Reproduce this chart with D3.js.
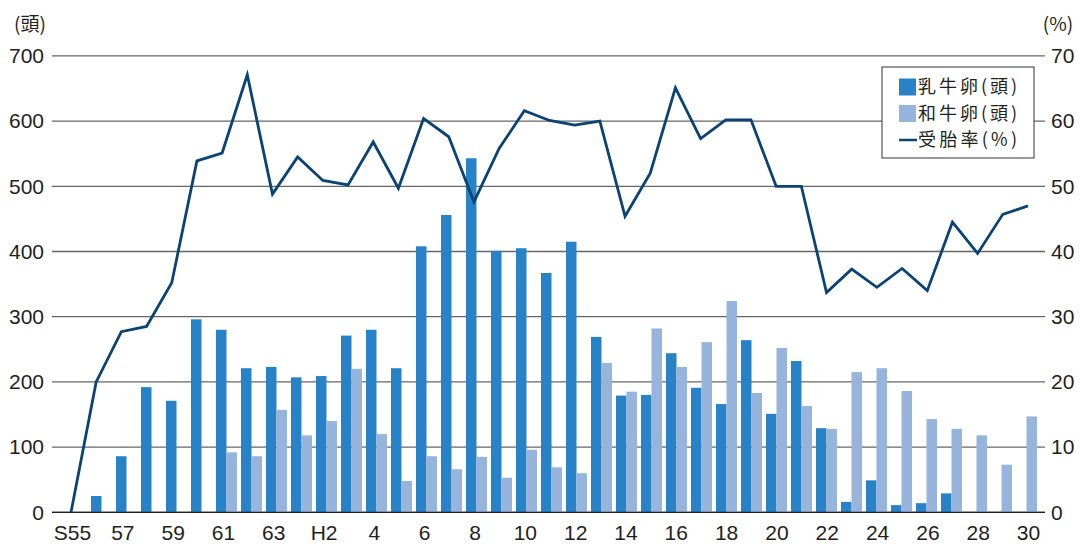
<!DOCTYPE html>
<html>
<head>
<meta charset="utf-8">
<script src="https://cdn.jsdelivr.net/npm/d3@7"></script>
<style>
body { margin: 0; background: #fff; }
text { font-family: "Liberation Sans Narrow", "Liberation Sans", Arial, sans-serif; fill: #231f20; }
.jp { font-family: "Noto Sans CJK JP", "Noto Sans", sans-serif; }
</style>
</head>
<body>
<div id="chart"></div>
<script>
// 年度 (S55 .. H30)
var years = ["S55","S56","S57","S58","S59","S60","S61","S62","S63",
  "H1","H2","H3","H4","H5","H6","H7","H8","H9","H10",
  "H11","H12","H13","H14","H15","H16","H17","H18","H19","H20",
  "H21","H22","H23","H24","H25","H26","H27","H28","H29","H30"];
var tickLabels = ["S55","57","59","61","63","H2","4","6","8","10","12","14","16","18","20","22","24","26","28","30"];

// 乳牛卵 (頭)
var dairy = [0,25,86,192,171,296,280,221,223,
  207,209,271,280,221,408,456,543,401,405,
  367,415,269,179,180,244,191,166,264,151,
  232,129,16,49,11,14,29,0,0,0];
// 和牛卵 (頭)
var wagyu = [0,0,0,0,0,0,92,86,157,
  118,140,220,120,48,86,66,85,53,96,
  69,60,229,185,282,223,261,324,183,252,
  163,128,215,221,186,143,128,118,73,147];
// 受胎率 (%)
var rate = [0,20,27.7,28.5,35.2,53.9,55.1,67.1,48.8,
  54.5,50.9,50.2,56.8,49.7,60.4,57.6,47.6,55.8,61.6,
  60.1,59.4,60.0,45.4,52.0,65.1,57.3,60.2,60.2,50.0,
  50.0,33.7,37.3,34.5,37.4,34.0,44.5,39.7,45.7,47.0];

var leftTicks = [0,100,200,300,400,500,600,700];
var rightTicks = [0,10,20,30,40,50,60,70];

var width = 1080, height = 544;
var plotL = 52, plotR = 1045;

var svg = d3.select("#chart").append("svg")
  .attr("width", width).attr("height", height);

var yL = d3.scaleLinear().domain([0,700]).range([512.3, 55.9]);
var yR = d3.scaleLinear().domain([0,70]).range([512.3, 55.9]);

var xBar = d3.scaleBand().domain(years).range([64, 1039])
  .paddingInner(0.16).paddingOuter(0.08);
var xSub = d3.scaleBand().domain(["dairy","wagyu"]).range([0, xBar.bandwidth()]);
var xLine = d3.scalePoint().domain(years).range([71, 1028]);
var xLab = d3.scalePoint().domain(years).range([72, 1028]);

// gridlines
svg.append("g").selectAll("line").data(leftTicks).enter().append("line")
  .attr("x1", plotL).attr("x2", plotR)
  .attr("y1", function(d){ return yL(d); })
  .attr("y2", function(d){ return yL(d); })
  .attr("stroke", function(d){ return d === 0 ? "#231f20" : "#666"; })
  .attr("stroke-width", 1.3);

// bars
var rows = years.map(function(y, i){
  return {year: y, dairy: dairy[i], wagyu: wagyu[i]};
});
var colors = {dairy: "#2882c8", wagyu: "#96b4dc"};
var grp = svg.append("g").selectAll("g").data(rows).enter().append("g")
  .attr("transform", function(d){ return "translate(" + xBar(d.year) + ",0)"; });
grp.selectAll("rect")
  .data(function(d){ return ["dairy","wagyu"].filter(function(k){ return d[k] > 0; })
    .map(function(k){ return {key: k, value: d[k]}; }); })
  .enter().append("rect")
  .attr("x", function(d){ return xSub(d.key); })
  .attr("width", xSub.bandwidth())
  .attr("y", function(d){ return yL(d.value); })
  .attr("height", function(d){ return yL(0) - yL(d.value); })
  .attr("fill", function(d){ return colors[d.key]; });

// baseline redraw over bars
svg.append("line").attr("x1", plotL).attr("x2", plotR)
  .attr("y1", yL(0)).attr("y2", yL(0))
  .attr("stroke", "#231f20").attr("stroke-width", 1.3);

// line
var line = d3.line()
  .x(function(d, i){ return xLine(years[i]); })
  .y(function(d){ return yR(d); });
svg.append("path").datum(rate)
  .attr("d", line)
  .attr("fill", "none")
  .attr("stroke", "#0b4372")
  .attr("stroke-width", 2.8)
  .attr("stroke-linejoin", "miter");

// axes
var axL = svg.append("g").attr("transform", "translate(44,0)")
  .call(d3.axisLeft(yL).tickValues(leftTicks).tickSize(0).tickPadding(0));
var axR = svg.append("g").attr("transform", "translate(1051,0)")
  .call(d3.axisRight(yR).tickValues(rightTicks).tickSize(0).tickPadding(0));
var tickYears = years.filter(function(d, i){ return i % 2 === 0; });
var axB = svg.append("g").attr("transform", "translate(0,525)")
  .call(d3.axisBottom(xLab).tickValues(tickYears).tickSize(0).tickPadding(0)
    .tickFormat(function(d, i){ return tickLabels[i]; }));
[axL, axR, axB].forEach(function(a){
  a.select(".domain").remove();
  a.selectAll("text").attr("font-size", 21)
    .attr("font-family", "Liberation Sans Narrow, Liberation Sans, Arial, sans-serif")
    .attr("fill", "#231f20");
});

// unit labels
svg.append("text").attr("class", "jp").attr("x", 30).attr("y", 31)
  .attr("text-anchor", "middle").attr("font-size", 19).text("(頭)");
svg.append("text").attr("class", "jp").attr("x", 1058).attr("y", 31)
  .attr("text-anchor", "middle").attr("font-size", 19).text("(%)");

// legend
var legendItems = [
  {label: "乳牛卵(頭)", type: "rect", color: colors.dairy},
  {label: "和牛卵(頭)", type: "rect", color: colors.wagyu},
  {label: "受胎率(%)", type: "line", color: "#0b4372"}
];
var lg = svg.append("g").attr("transform", "translate(882,67)");
lg.append("rect").attr("width", 152).attr("height", 91)
  .attr("fill", "#fff").attr("stroke", "#333").attr("stroke-width", 1);
var li = lg.selectAll("g.item").data(legendItems).enter().append("g")
  .attr("class", "item")
  .attr("transform", function(d, i){ return "translate(17," + (20 + i * 26.5) + ")"; });
li.filter(function(d){ return d.type === "rect"; }).append("rect")
  .attr("x", 0).attr("y", -8.5).attr("width", 17).attr("height", 17)
  .attr("fill", function(d){ return d.color; });
li.filter(function(d){ return d.type === "line"; }).append("line")
  .attr("x1", 0).attr("x2", 18).attr("y1", 0).attr("y2", 0)
  .attr("stroke", function(d){ return d.color; }).attr("stroke-width", 2.5);
li.append("text").attr("class", "jp").attr("x", 19).attr("y", 0)
  .attr("dy", "0.36em").attr("font-size", 18)
  .attr("textLength", 99).attr("lengthAdjust", "spacing")
  .text(function(d){ return d.label; });
</script>
</body>
</html>
